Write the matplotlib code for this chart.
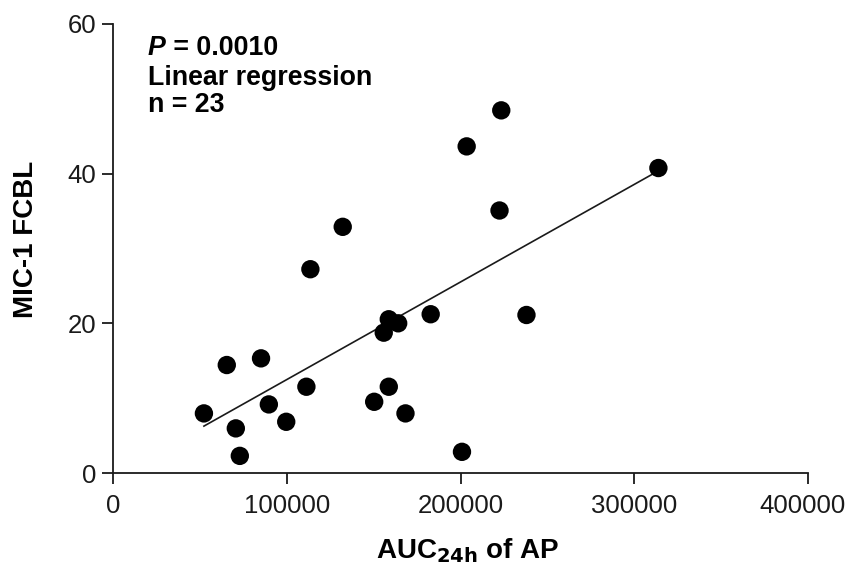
import numpy as np
import matplotlib
matplotlib.use("Agg")
import matplotlib.pyplot as plt
import matplotlib.transforms as mtransforms

plt.rcParams['font.family'] = ['Liberation Sans', 'DejaVu Sans']

# AUC24h of AP vs MIC-1 FCBL
auc_ap = [52350, 65500, 70700, 73000, 85200, 89700, 99700, 111300, 113600,
          132200, 150300, 158700, 168300, 155800, 158700, 164100, 182800,
          223400, 203500, 313800, 222400, 237900, 200800]
mic1_fcbl = [7.98, 14.44, 5.98, 2.31, 15.33, 9.18, 6.86, 11.54, 27.23,
             32.89, 9.53, 11.54, 7.98, 18.76, 20.55, 20.01, 21.22,
             48.44, 43.63, 40.74, 35.07, 21.12, 2.85]

x_ticks = [0, 100000, 200000, 300000, 400000]
y_ticks = [0, 20, 40, 60]

x = np.array(auc_ap)
y = np.array(mic1_fcbl)
slope, intercept = np.polyfit(x, y, 1)
xfit = np.array([x.min(), x.max()])

fig = plt.figure(figsize=(8.49, 5.66), dpi=100)
ax = fig.add_axes([0.133, 0.164, 0.819, 0.794])

ax.plot(xfit, slope * xfit + intercept, color='#1a1a1a', lw=1.2, zorder=2)
ax.scatter(x, y, s=175, color='black', edgecolors='none', zorder=3)

ax.set_xlim(0, 400000)
ax.set_ylim(0, 60)
ax.set_xticks(x_ticks)
ax.set_xticklabels([str(t) for t in x_ticks])
ax.set_yticks(y_ticks)

for side in ['top', 'right']:
    ax.spines[side].set_visible(False)
for side in ['left', 'bottom']:
    ax.spines[side].set_linewidth(1.3)
    ax.spines[side].set_color('#1a1a1a')

ax.tick_params(axis='both', length=8, width=1.3, color='#1a1a1a',
               labelsize=18.5, labelcolor='#1a1a1a')
ax.tick_params(axis='x', pad=7)
ax.tick_params(axis='y', pad=4)

# last x tick label sits a little left so it stays inside the figure
last = ax.get_xticklabels()[-1]
last.set_transform(last.get_transform() + mtransforms.ScaledTranslation(-6 / 100, 0, fig.dpi_scale_trans))

ax.set_xlabel("AUC$_{\\mathbf{24h}}$ of AP", fontsize=20, fontweight='bold')
ax.xaxis.set_label_coords(0.51, -0.14)
ax.set_ylabel("MIC-1 FCBL", fontsize=20, fontweight='bold')
ax.yaxis.set_label_coords(-0.107, 0.521)

# annotation block, "P" in bold italic
p_txt = ax.text(0.05, 0.931, "P", transform=ax.transAxes, fontsize=19.3,
                fontweight='bold', fontstyle='italic', va='baseline', ha='left')
ax.annotate(" = 0.0010", xy=(1, 0), xycoords=p_txt, va='bottom', ha='left',
            fontsize=19.3, fontweight='bold')
ax.text(0.05, 0.864, "Linear regression", transform=ax.transAxes, fontsize=19.3,
        fontweight='bold', va='baseline', ha='left')
ax.text(0.05, 0.804, "n = 23", transform=ax.transAxes, fontsize=19.3,
        fontweight='bold', va='baseline', ha='left')

fig.savefig("out.png", dpi=100)
